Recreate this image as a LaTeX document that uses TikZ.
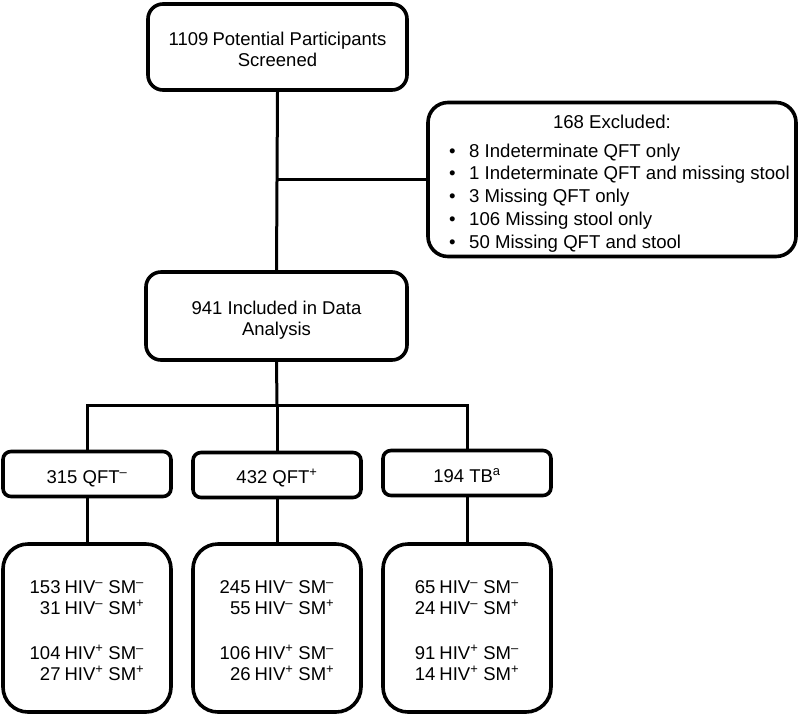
\documentclass[tikz,border=0pt]{standalone}
\usepackage{fontspec}
\setmainfont{Liberation Sans}
\newcommand{\mysup}[1]{\textsuperscript{#1}}
\newcommand{\mneg}{\mysup{–}}
\newcommand{\mpos}{\mysup{+}}
\begin{document}
\begin{tikzpicture}[x=1pt,y=-1pt,
  box/.style={draw=black, line width=3.6pt, fill=white, inner sep=0pt},
  conn/.style={line width=3pt},
  txt/.style={inner sep=0pt, anchor=base, font=\fontsize{18.5}{21}\selectfont}]
\useasboundingbox (0,0) rectangle (800,716);
% boxes
\node[box, rounded corners=15pt, minimum width=259pt, minimum height=86pt] (top) at (277.5,47) {};
\node[box, rounded corners=20pt, minimum width=368pt, minimum height=154pt] (excl) at (612,179.5) {};
\node[box, rounded corners=15pt, minimum width=261pt, minimum height=88pt] (mid) at (276.5,316) {};
\node[box, rounded corners=8pt, minimum width=168pt, minimum height=45pt] (s1) at (87,474) {};
\node[box, rounded corners=8pt, minimum width=168pt, minimum height=45pt] (s2) at (277,475) {};
\node[box, rounded corners=8pt, minimum width=168pt, minimum height=45pt] (s3) at (467,473) {};
\node[box, rounded corners=25pt, minimum width=168pt, minimum height=168pt] (b1) at (87,628) {};
\node[box, rounded corners=25pt, minimum width=168pt, minimum height=168pt] (b2) at (277,628) {};
\node[box, rounded corners=25pt, minimum width=168pt, minimum height=168pt] (b3) at (467,628) {};
% texts
\node[txt] (topt) at (277.5,45)
  {\begin{tabular}[t]{@{}c@{}}1109\hspace{-1pt} Potential Participants\\Screened\end{tabular}};
\node[txt] (midt) at (276.5,314)
  {\begin{tabular}[t]{@{}c@{}}941 Included in Data\\Analysis\end{tabular}};
\node[txt, font=\fontsize{18.6}{22.75}\selectfont] (exh) at (612,128) {168 Excluded:};
\node[txt, anchor=base west, font=\fontsize{18.6}{22.75}\selectfont] (exl) at (449,157)
  {\begin{tabular}[t]{@{}l@{\hspace{13.5pt}}l@{}}
   • & 8 Indeterminate QFT only\\
   • & 1 Indeterminate QFT and missing stool\\
   • & 3 Missing QFT only\\
   • & 106 Missing stool only\\
   • & 50 Missing QFT and stool
   \end{tabular}};
\node[txt] (s1t) at (87,483) {315 QFT\mneg};
\node[txt] (s2t) at (277,483) {432 QFT\mpos};
\node[txt] (s3t) at (467,482) {194 TB\mysup{a}};
\def\rows#1#2#3#4{%
  \begin{tabular}[t]{@{}r@{\hspace{4pt}}l@{\hspace{5pt}}l@{}}
  #1 & HIV\mneg & SM\mneg\\
  #2 & HIV\mneg & SM\mpos\\[24pt]
  #3 & HIV\mpos & SM\mneg\\
  #4 & HIV\mpos & SM\mpos
  \end{tabular}}
\node[txt] (b1t) at (87,593) {\rows{153}{31}{104}{27}};
\node[txt] (b2t) at (277,593) {\rows{245}{55}{106}{26}};
\node[txt] (b3t) at (467,593) {\rows{65}{24}{91}{14}};
% connectors
\coordinate (br) at (277,179.5);
\coordinate (split) at (277,405);
\draw[conn] (top.south) -- (mid.north);
\draw[conn] (br) -- (excl.west);
\draw[conn] (mid.south) -- (split);
\draw[conn] (s1.north) |- (split) -| (s3.north);
\draw[conn] (split) -- (s2.north);
\draw[conn] (s1.south) -- (b1.north);
\draw[conn] (s2.south) -- (b2.north);
\draw[conn] (s3.south) -- (b3.north);
\end{tikzpicture}
\end{document}
